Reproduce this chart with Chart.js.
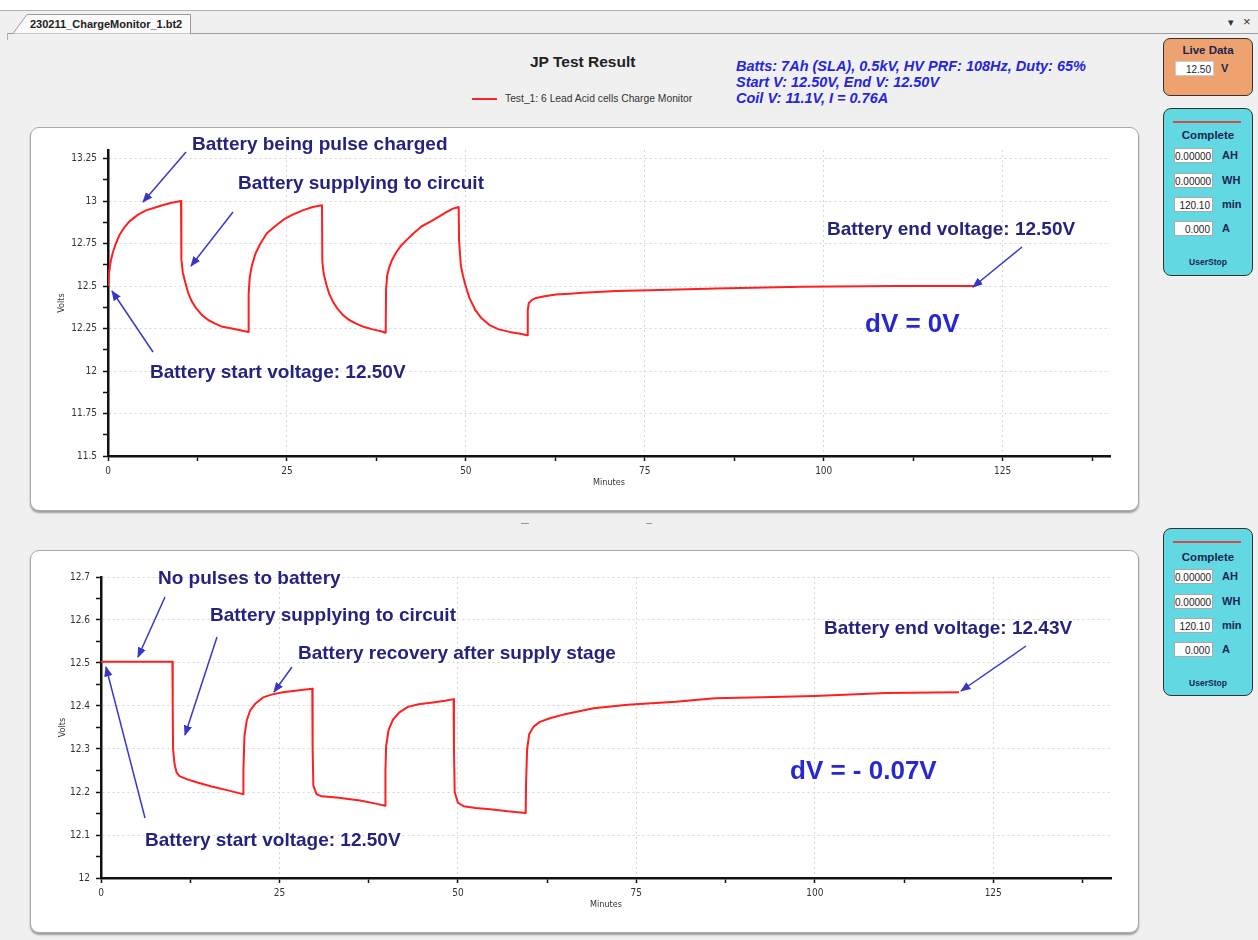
<!DOCTYPE html>
<html>
<head>
<meta charset="utf-8">
<title>JP Test Result</title>
<script src="https://cdn.jsdelivr.net/npm/chart.js@4.4.1/dist/chart.umd.min.js"></script>
<style>
  body { margin:0; width:1258px; height:940px; background:#f0f0f0; position:relative; overflow:hidden;
         font-family:'Liberation Sans', Arial, sans-serif; }
  .abs { position:absolute; }
  .panel { position:absolute; background:#fff; border:1px solid #a8a8a8; border-radius:9px;
           box-shadow:0 2px 2px rgba(0,0,0,.35); }
  .panel canvas { position:absolute; left:0; top:0; }
  .ann { position:absolute; font-weight:bold; font-size:19px; line-height:20px; color:#24247e; white-space:nowrap; }
  .dv { position:absolute; font-weight:bold; font-size:26px; line-height:28px; color:#2828d2; white-space:nowrap; }
  .info { position:absolute; left:736px; top:58px; font-size:14.5px; line-height:16px; font-weight:bold;
          font-style:italic; color:#2525dc; white-space:nowrap; }
  .box { position:absolute; border:1px solid #333; }
  .box .hd { position:absolute; left:0; width:100%; text-align:center; font-weight:bold; font-size:11.5px; color:#1b2550; }
  .box .in { position:absolute; left:10px; width:39px; height:15px; background:#fff; border:1px solid #aaa;
             font-size:10px; line-height:15px; text-align:right; padding-right:2px; box-sizing:border-box; color:#222; }
  .box .un { position:absolute; left:58px; font-weight:bold; font-size:11px; line-height:15px; color:#1b2550; }
  .box .st { position:absolute; left:0; width:100%; text-align:center; font-weight:bold; font-size:8.5px; color:#1b2550; }
</style>
</head>
<body>

<!-- barre d'onglet -->
<svg class="abs" style="left:0;top:0" width="1258" height="40">
  <rect x="0" y="0" width="1258" height="10" fill="#fff"/>
  <line x1="0" y1="10.5" x2="1258" y2="10.5" stroke="#b4b4b4"/>
  <line x1="7" y1="33.5" x2="1258" y2="33.5" stroke="#9c9c9c"/>
  <line x1="7.5" y1="33" x2="7.5" y2="940" stroke="#b0b0b0"/>
  <path d="M13 33.5 L27 14.5 H190.5 V33.5" fill="#fafafa" stroke="#9a9a9a"/>
  <text x="30" y="28" font-size="11" font-weight="bold" fill="#222" font-family="Liberation Sans, Arial">230211_ChargeMonitor_1.bt2</text>
  <text x="1228" y="26" font-size="11" fill="#333">▾</text>
  <text x="1243" y="26" font-size="13" fill="#333">×</text>
</svg>

<div class="abs" style="left:530px;top:53px;font-size:15.5px;font-weight:bold;color:#222">JP Test Result</div>
<div class="abs" style="left:472px;top:98px;width:25px;height:2px;background:#ff2020"></div>
<div class="abs" style="left:505px;top:93px;font-size:10.3px;color:#333">Test_1: 6 Lead Acid cells Charge Monitor</div>
<div class="info">Batts: 7Ah (SLA), 0.5kV, HV PRF: 108Hz, Duty: 65%<br>Start V: 12.50V, End V: 12.50V<br>Coil V: 11.1V, I = 0.76A</div>

<div class="panel" style="left:30px;top:127px;width:1107px;height:382px"><canvas id="topChart" width="1107" height="382"></canvas></div>
<div class="panel" style="left:30px;top:550px;width:1107px;height:381px"><canvas id="bottomChart" width="1107" height="381"></canvas></div>

<div class="abs" style="left:521px;top:523px;width:8px;height:1px;background:#999"></div>
<div class="abs" style="left:646px;top:523px;width:6px;height:1px;background:#999"></div>

<!-- panneaux de droite -->
<div class="box" style="left:1163px;top:38px;width:88px;height:56px;background:#eea26f;border-radius:7px">
  <div class="hd" style="top:5px">Live Data</div>
  <div class="in" style="left:11px;top:22px;border-color:#ccc">12.50</div>
  <div class="un" style="left:57px;top:22px">V</div>
</div>
<div class="box" style="left:1163px;top:108px;width:88px;height:166px;background:#62d8e2;border-radius:8px">
  <div class="abs" style="left:9px;top:12px;width:68px;height:2px;background:#d24a4a"></div>
  <div class="hd" style="top:20px">Complete</div>
  <div class="in" style="top:39px">0.00000</div><div class="un" style="top:39px">AH</div>
  <div class="in" style="top:64px">0.00000</div><div class="un" style="top:64px">WH</div>
  <div class="in" style="top:88px">120.10</div><div class="un" style="top:88px">min</div>
  <div class="in" style="top:112px">0.000</div><div class="un" style="top:112px">A</div>
  <div class="st" style="top:148px">UserStop</div>
</div>
<div class="box" style="left:1163px;top:528px;width:88px;height:166px;background:#62d8e2;border-radius:8px">
  <div class="abs" style="left:9px;top:12px;width:68px;height:2px;background:#d24a4a"></div>
  <div class="hd" style="top:22px">Complete</div>
  <div class="in" style="top:40px">0.00000</div><div class="un" style="top:40px">AH</div>
  <div class="in" style="top:65px">0.00000</div><div class="un" style="top:65px">WH</div>
  <div class="in" style="top:89px">120.10</div><div class="un" style="top:89px">min</div>
  <div class="in" style="top:113px">0.000</div><div class="un" style="top:113px">A</div>
  <div class="st" style="top:149px">UserStop</div>
</div>

<!-- annotations -->
<div class="ann" style="left:192px;top:134px">Battery being pulse charged</div>
<div class="ann" style="left:238px;top:173px">Battery supplying to circuit</div>
<div class="ann" style="left:150px;top:362px">Battery start voltage: 12.50V</div>
<div class="ann" style="left:827px;top:219px">Battery end voltage: 12.50V</div>
<div class="dv" style="left:865px;top:309px">dV = 0V</div>

<div class="ann" style="left:158px;top:568px">No pulses to battery</div>
<div class="ann" style="left:210px;top:605px">Battery supplying to circuit</div>
<div class="ann" style="left:298px;top:643px">Battery recovery after supply stage</div>
<div class="ann" style="left:145px;top:830px">Battery start voltage: 12.50V</div>
<div class="ann" style="left:824px;top:618px">Battery end voltage: 12.43V</div>
<div class="dv" style="left:790px;top:756px">dV = - 0.07V</div>

<svg id="arrows" class="abs" style="left:0;top:0" width="1258" height="940">
  <defs>
    <marker id="ah" viewBox="0 0 10 10" refX="9" refY="5" markerWidth="7" markerHeight="7" orient="auto">
      <path d="M0,1 L10,5 L0,9 z" fill="#3838c8"/>
    </marker>
  </defs>
</svg>

<script>
// ── Courbe du haut : 6 cellules, charge pulsée (minutes / volts) ──
const topMinutes = [
  0, 0.15, 0.4, 0.7, 1.1, 1.6, 2.2, 3.0, 4.2, 5.3, 6.5, 7.6, 8.9, 10.2,
  10.25, 10.45, 10.8, 11.2, 11.7, 12.3, 13.1, 14.0, 14.9, 16.0, 17.3, 18.5, 19.6,
  19.65, 19.8, 20.1, 20.6, 21.3, 22.2, 23.3, 24.5, 25.8, 27.2, 28.6, 29.9,
  29.95, 30.15, 30.5, 30.9, 31.4, 32.0, 32.8, 33.7, 34.6, 35.7, 37.0, 38.0, 38.8,
  38.85, 39.0, 39.3, 39.7, 40.3, 40.9, 41.7, 42.7, 43.8, 45.1, 46.3, 47.4, 48.2, 49.0,
  49.05, 49.3, 49.6, 49.9, 50.5, 51.3, 52.2, 53.3, 54.6, 56.1, 57.4, 58.6,
  58.65, 58.8, 59.3, 59.8, 61.0, 62.6, 64.5, 66.3, 71.0, 75.7, 85, 97, 110, 121];
const topVolts = [
  12.50, 12.58, 12.65, 12.70, 12.75, 12.80, 12.84, 12.88, 12.92, 12.945, 12.96, 12.975, 12.99, 13.00,
  12.66, 12.58, 12.52, 12.46, 12.41, 12.37, 12.33, 12.30, 12.28, 12.26, 12.25, 12.24, 12.23,
  12.45, 12.55, 12.62, 12.69, 12.75, 12.81, 12.85, 12.89, 12.92, 12.945, 12.965, 12.975,
  12.64, 12.57, 12.51, 12.455, 12.41, 12.37, 12.33, 12.30, 12.28, 12.26, 12.245, 12.235, 12.225,
  12.48, 12.56, 12.61, 12.655, 12.70, 12.735, 12.77, 12.81, 12.85, 12.88, 12.91, 12.937, 12.955, 12.965,
  12.77, 12.62, 12.56, 12.51, 12.43, 12.36, 12.31, 12.27, 12.245, 12.23, 12.22, 12.21,
  12.36, 12.40, 12.42, 12.43, 12.44, 12.45, 12.455, 12.46, 12.47, 12.475, 12.485, 12.495, 12.50, 12.50];

// ── Courbe du bas : sans impulsions ──
const bottomMinutes = [
  0, 10.0,
  10.05, 10.1, 10.3, 10.6, 11.0, 12.0, 13.5, 15.5, 17.5, 19.9,
  19.95, 20.1, 20.4, 20.9, 21.6, 22.7, 24.0, 25.5, 27.5, 29.6,
  29.65, 29.75, 30.2, 30.9, 33.0, 36.3, 38.5, 39.8,
  39.85, 39.95, 40.3, 40.9, 41.8, 43.0, 44.5, 46.5, 48.2, 49.4,
  49.45, 49.55, 50.0, 50.8, 52.5, 54.5, 57.0, 59.5,
  59.55, 59.7, 60.0, 60.6, 61.5, 63.0, 64.8, 67.0, 69.0, 73.8, 80.5, 86, 91, 100, 110, 120.2];
const bottomVolts = [
  12.503, 12.503,
  12.40, 12.30, 12.265, 12.245, 12.237, 12.23, 12.222, 12.213, 12.205, 12.195,
  12.25, 12.33, 12.365, 12.39, 12.405, 12.42, 12.427, 12.432, 12.436, 12.44,
  12.30, 12.215, 12.195, 12.19, 12.187, 12.18, 12.173, 12.168,
  12.25, 12.307, 12.345, 12.368, 12.385, 12.398, 12.404, 12.408, 12.412, 12.416,
  12.30, 12.20, 12.175, 12.167, 12.163, 12.16, 12.155, 12.151,
  12.22, 12.30, 12.335, 12.352, 12.363, 12.372, 12.38, 12.388, 12.395, 12.403, 12.41, 12.418, 12.42, 12.423, 12.43, 12.432];

// ── Graduations ──
const xTickValues = [0, 12.5, 25, 37.5, 50, 62.5, 75, 87.5, 100, 112.5, 125, 137.5];
const xMajor = [0, 25, 50, 75, 100, 125];
const xTickLabels = ['0', '25', '50', '75', '100', '125'];

const topYTicks = [11.5, 11.625, 11.75, 11.875, 12, 12.125, 12.25, 12.375, 12.5, 12.625, 12.75, 12.875, 13, 13.125, 13.25];
const topYMajor = [11.5, 11.75, 12, 12.25, 12.5, 12.75, 13, 13.25];
const topYLabels = ['11.5', '11.75', '12', '12.25', '12.5', '12.75', '13', '13.25'];

const bottomYTicks = [12, 12.05, 12.1, 12.15, 12.2, 12.25, 12.3, 12.35, 12.4, 12.45, 12.5, 12.55, 12.6, 12.65, 12.7];
const bottomYMajor = [12, 12.1, 12.2, 12.3, 12.4, 12.5, 12.6, 12.7];
const bottomYLabels = ['12', '12.1', '12.2', '12.3', '12.4', '12.5', '12.6', '12.7'];

const tickFont = { family: "'Liberation Sans Narrow', 'DejaVu Sans Condensed', Arial", size: 10 };
const titleFont = { family: "'Liberation Sans Narrow', 'DejaVu Sans Condensed', Arial", size: 9 };

const findIdx = (majors, v) => majors.findIndex(m => Math.abs(m - v) < 1e-6);
const gridColor = majors => c => (c.tick && findIdx(majors, c.tick.value) >= 0) ? '#d6d6d6' : 'rgba(0,0,0,0)';

function buildChart(id, minutes, volts, cfg) {
  const ctx = document.getElementById(id).getContext('2d');
  return new Chart(ctx, {
    type: 'line',
    data: {
      datasets: [{
        data: minutes.map((x, i) => ({ x, y: volts[i] })),
        borderColor: '#ff1f1f', borderWidth: 2, pointRadius: 0,
        tension: 0, borderJoinStyle: 'round', fill: false
      }]
    },
    options: {
      responsive: false, animation: false, devicePixelRatio: 1,
      layout: { padding: { left: 0, top: cfg.padTop, right: cfg.padRight, bottom: 0 } },
      plugins: { legend: { display: false }, tooltip: { enabled: false } },
      scales: {
        x: {
          type: 'linear', min: 0, max: cfg.xMax,
          afterBuildTicks: s => { s.ticks = xTickValues.map(value => ({ value })); },
          afterFit: s => { s.height = 54; },
          ticks: { autoSkip: false, maxRotation: 0, padding: 4, color: '#333', font: tickFont,
                   callback: v => { const i = findIdx(xMajor, v); return i < 0 ? '' : xTickLabels[i]; } },
          grid: { color: gridColor(xMajor), tickColor: '#111', tickLength: 5, tickWidth: 1.5 },
          border: { color: '#111', width: 2.5, dash: [2, 3] },
          title: { display: true, text: 'Minutes', color: '#333', font: titleFont, padding: { top: 0, bottom: 21.6 } }
        },
        y: {
          min: cfg.yMin, max: cfg.yMax,
          afterBuildTicks: s => { s.ticks = cfg.yTicks.map(value => ({ value })); },
          afterFit: s => { s.width = cfg.yWidth; },
          ticks: { autoSkip: false, padding: 6, color: '#333', font: tickFont,
                   callback: v => { const i = findIdx(cfg.yMajor, v); return i < 0 ? '' : cfg.yLabels[i]; } },
          grid: { color: gridColor(cfg.yMajor), tickColor: '#111', tickLength: 5, tickWidth: 1.5 },
          border: { color: '#111', width: 2.5, dash: [2, 3] },
          title: { display: true, text: 'Volts', color: '#333', font: titleFont, padding: { top: cfg.yTitlePad, bottom: 0 } }
        }
      }
    }
  });
}

buildChart('topChart', topMinutes, topVolts, {
  xMax: 140, yMin: 11.5, yMax: 13.3, padTop: 22, padRight: 28, yWidth: 77, yTitlePad: 25.6,
  yTicks: topYTicks, yMajor: topYMajor, yLabels: topYLabels
});
buildChart('bottomChart', bottomMinutes, bottomVolts, {
  xMax: 141.5, yMin: 12, yMax: 12.7, padTop: 26, padRight: 27, yWidth: 70, yTitlePad: 26.6,
  yTicks: bottomYTicks, yMajor: bottomYMajor, yLabels: bottomYLabels
});

// ── Flèches des annotations ──
const arrows = [
  [186, 152, 143, 202], [233, 212, 191, 266], [153, 352, 112, 291], [1022, 247, 973, 287],
  [165, 597, 138, 657], [217, 637, 185, 735], [292, 667, 274, 692], [145, 818, 106, 667], [1026, 646, 961, 691]
];
const svg = document.getElementById('arrows');
arrows.forEach(([x1, y1, x2, y2]) => {
  const l = document.createElementNS('http://www.w3.org/2000/svg', 'line');
  l.setAttribute('x1', x1); l.setAttribute('y1', y1); l.setAttribute('x2', x2); l.setAttribute('y2', y2);
  l.setAttribute('stroke', '#3838c8'); l.setAttribute('stroke-width', '1.5');
  l.setAttribute('marker-end', 'url(#ah)');
  svg.appendChild(l);
});
</script>
</body>
</html>
